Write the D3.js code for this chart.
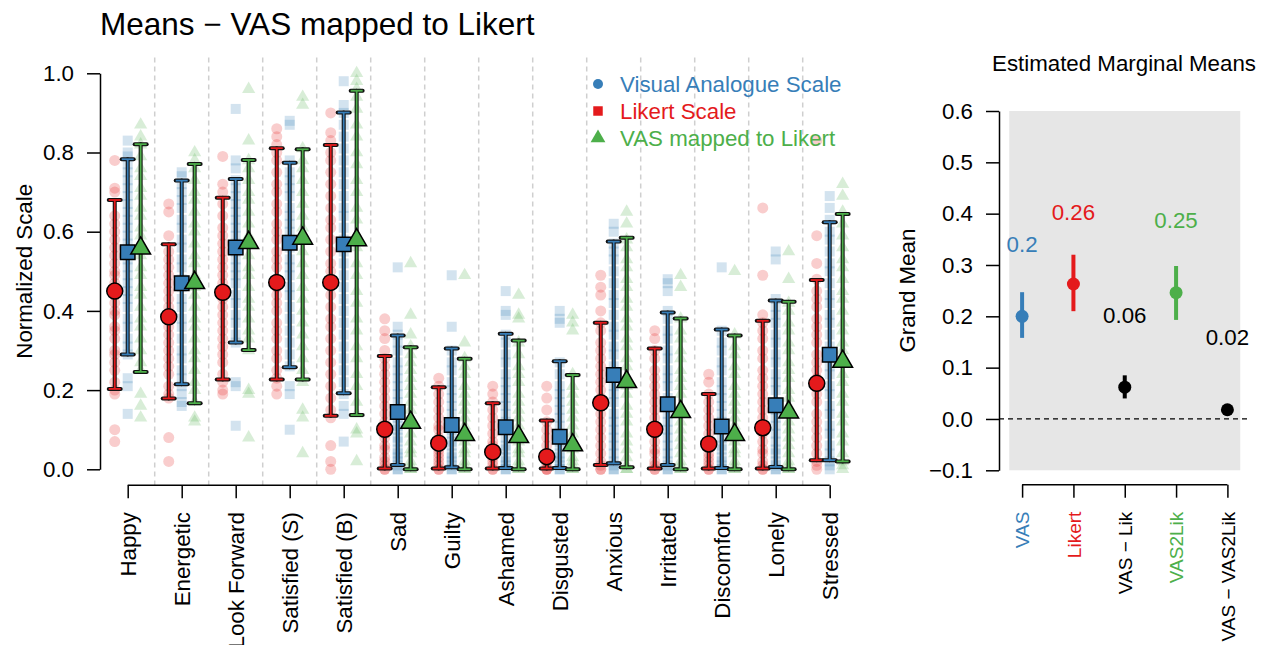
<!DOCTYPE html>
<html>
<head>
<meta charset="utf-8">
<script src="https://cdn.jsdelivr.net/npm/d3@7"></script>
<style>
  html, body { margin: 0; padding: 0; background: #fff; }
  svg { display: block; font-family: "Liberation Sans", Arial, sans-serif; }
</style>
</head>
<body>
<svg id="chart" width="1266" height="645"></svg>
<script>
// ---- Items and per-item summary statistics (normalized 0..1) ----
const categories = ["Happy", "Energetic", "Look Forward", "Satisfied (S)", "Satisfied (B)",
  "Sad", "Guilty", "Ashamed", "Disgusted", "Anxious", "Irritated", "Discomfort", "Lonely", "Stressed"];

const likertMean = [0.450, 0.385, 0.447, 0.472, 0.472, 0.101, 0.066, 0.044, 0.032, 0.168, 0.101, 0.064, 0.105, 0.217];
const likertLo   = [0.203, 0.179, 0.227, 0.227, 0.135, 0.002, 0.002, 0.002, 0.002, 0.011, 0.002, 0.002, 0.002, 0.023];
const likertHi   = [0.680, 0.568, 0.686, 0.811, 0.819, 0.286, 0.207, 0.167, 0.123, 0.370, 0.305, 0.190, 0.375, 0.478];

const vasMean = [0.548, 0.470, 0.560, 0.572, 0.568, 0.145, 0.112, 0.106, 0.082, 0.238, 0.164, 0.108, 0.162, 0.289];
const vasLo   = [0.290, 0.215, 0.320, 0.258, 0.192, 0.011, 0.005, 0.003, 0.003, 0.015, 0.011, 0.003, 0.006, 0.023];
const vasHi   = [0.783, 0.729, 0.733, 0.774, 0.901, 0.338, 0.305, 0.342, 0.273, 0.575, 0.396, 0.353, 0.426, 0.624];

const mapMean = [0.558, 0.471, 0.572, 0.583, 0.579, 0.118, 0.087, 0.082, 0.061, 0.221, 0.145, 0.087, 0.144, 0.272];
const mapLo   = [0.246, 0.167, 0.301, 0.227, 0.137, 0.000, 0.000, 0.000, 0.000, 0.005, 0.000, 0.000, 0.000, 0.020];
const mapHi   = [0.821, 0.771, 0.781, 0.808, 0.956, 0.308, 0.279, 0.325, 0.238, 0.585, 0.381, 0.338, 0.423, 0.645];

// ---- Individual responses per item ----
const likertPts = [
  [0.07,0.10,0.19,0.20,0.22,0.25,0.27,0.29,0.30,0.33,0.35,0.36,0.39,0.40,0.42,0.44,0.45,0.47,0.49,0.50,0.52,0.54,0.56,0.58,0.60,0.62,0.64,0.70,0.71,0.78],
  [0.02,0.08,0.18,0.19,0.21,0.24,0.26,0.28,0.30,0.32,0.34,0.36,0.38,0.39,0.41,0.43,0.45,0.47,0.49,0.51,0.53,0.55,0.59,0.65,0.67],
  [0.19,0.20,0.22,0.24,0.27,0.29,0.31,0.33,0.35,0.37,0.39,0.41,0.43,0.45,0.47,0.49,0.51,0.53,0.55,0.57,0.59,0.61,0.64,0.67,0.70,0.72,0.79],
  [0.19,0.21,0.23,0.25,0.28,0.30,0.33,0.35,0.37,0.40,0.42,0.44,0.46,0.48,0.51,0.53,0.55,0.58,0.60,0.62,0.65,0.67,0.70,0.72,0.75,0.78,0.80,0.82,0.84,0.86],
  [0.00,0.02,0.06,0.13,0.15,0.18,0.21,0.24,0.27,0.30,0.33,0.36,0.38,0.41,0.44,0.47,0.50,0.52,0.55,0.58,0.61,0.63,0.66,0.69,0.72,0.75,0.78,0.80,0.83,0.85,0.90],
  [0.00,0.00,0.01,0.02,0.03,0.05,0.06,0.08,0.09,0.11,0.12,0.14,0.16,0.18,0.20,0.22,0.24,0.26,0.28,0.30,0.33,0.35,0.38],
  [0.00,0.00,0.01,0.02,0.03,0.04,0.05,0.07,0.08,0.10,0.11,0.13,0.15,0.17,0.19,0.21,0.23],
  [0.00,0.00,0.01,0.02,0.03,0.04,0.06,0.07,0.09,0.11,0.13,0.15,0.17,0.19,0.21],
  [0.00,0.00,0.00,0.01,0.02,0.03,0.04,0.06,0.08,0.10,0.12,0.15,0.18,0.21],
  [0.00,0.00,0.01,0.02,0.04,0.06,0.08,0.10,0.12,0.14,0.16,0.18,0.20,0.22,0.24,0.26,0.28,0.30,0.32,0.35,0.37,0.40,0.44,0.46,0.49],
  [0.00,0.00,0.01,0.02,0.04,0.05,0.07,0.09,0.11,0.13,0.15,0.17,0.19,0.21,0.23,0.25,0.28,0.30,0.33,0.35],
  [0.00,0.00,0.01,0.02,0.03,0.04,0.06,0.07,0.09,0.11,0.13,0.15,0.17,0.19,0.22,0.24],
  [0.00,0.00,0.01,0.02,0.04,0.05,0.07,0.09,0.11,0.13,0.15,0.17,0.19,0.21,0.23,0.25,0.28,0.30,0.33,0.35,0.37,0.39,0.49,0.66],
  [0.00,0.01,0.02,0.04,0.06,0.08,0.10,0.12,0.14,0.17,0.19,0.21,0.23,0.25,0.27,0.29,0.32,0.34,0.36,0.38,0.41,0.43,0.45,0.48,0.52,0.59,0.83]
];

const vasPts = [
  [0.14,0.21,0.23,0.29,0.31,0.33,0.36,0.38,0.41,0.43,0.45,0.47,0.49,0.51,0.53,0.55,0.57,0.59,0.61,0.63,0.65,0.67,0.69,0.71,0.73,0.75,0.77,0.79,0.80,0.83],
  [0.16,0.17,0.19,0.21,0.23,0.25,0.28,0.30,0.33,0.36,0.38,0.41,0.43,0.46,0.48,0.51,0.53,0.56,0.58,0.61,0.63,0.66,0.68,0.70,0.72,0.74,0.75],
  [0.11,0.21,0.22,0.32,0.34,0.37,0.39,0.42,0.44,0.47,0.49,0.51,0.53,0.55,0.57,0.59,0.61,0.63,0.65,0.67,0.69,0.71,0.73,0.76,0.78,0.91],
  [0.10,0.19,0.21,0.26,0.29,0.32,0.35,0.38,0.41,0.44,0.46,0.49,0.51,0.53,0.56,0.58,0.60,0.62,0.64,0.66,0.69,0.71,0.73,0.75,0.78,0.87,0.88],
  [0.07,0.14,0.16,0.19,0.22,0.25,0.28,0.31,0.34,0.37,0.40,0.43,0.46,0.49,0.52,0.55,0.58,0.61,0.64,0.66,0.69,0.72,0.75,0.78,0.81,0.84,0.87,0.90,0.92,0.98],
  [0.00,0.00,0.01,0.02,0.03,0.04,0.05,0.07,0.08,0.10,0.11,0.13,0.15,0.17,0.19,0.21,0.23,0.25,0.27,0.30,0.32,0.34,0.36,0.51],
  [0.00,0.00,0.01,0.02,0.03,0.04,0.06,0.07,0.09,0.10,0.12,0.14,0.16,0.18,0.20,0.22,0.25,0.27,0.30,0.36,0.49],
  [0.00,0.00,0.01,0.02,0.03,0.05,0.06,0.08,0.10,0.12,0.14,0.16,0.18,0.20,0.22,0.24,0.27,0.29,0.32,0.34,0.39,0.40,0.45],
  [0.00,0.00,0.01,0.02,0.03,0.04,0.06,0.07,0.09,0.11,0.13,0.15,0.17,0.19,0.21,0.24,0.27,0.37,0.38,0.40],
  [0.00,0.00,0.01,0.02,0.04,0.06,0.08,0.10,0.12,0.14,0.17,0.19,0.21,0.24,0.26,0.29,0.31,0.34,0.36,0.39,0.42,0.44,0.47,0.50,0.53,0.55,0.57,0.60,0.62],
  [0.00,0.00,0.01,0.02,0.04,0.06,0.08,0.10,0.12,0.14,0.16,0.18,0.21,0.23,0.25,0.28,0.30,0.33,0.35,0.38,0.40,0.45,0.47,0.48],
  [0.00,0.00,0.01,0.02,0.03,0.05,0.06,0.08,0.10,0.12,0.14,0.16,0.18,0.20,0.22,0.25,0.27,0.30,0.32,0.35,0.51],
  [0.00,0.00,0.01,0.02,0.04,0.05,0.07,0.09,0.11,0.13,0.15,0.17,0.20,0.22,0.24,0.27,0.29,0.32,0.34,0.37,0.39,0.41,0.43,0.53,0.55],
  [0.00,0.01,0.02,0.04,0.06,0.09,0.11,0.14,0.16,0.19,0.21,0.24,0.26,0.29,0.31,0.34,0.37,0.39,0.42,0.44,0.47,0.50,0.52,0.55,0.58,0.60,0.63,0.66,0.69]
];

const mapPts = [
  [0.13,0.16,0.19,0.25,0.27,0.30,0.33,0.36,0.38,0.41,0.44,0.46,0.49,0.51,0.54,0.56,0.59,0.61,0.64,0.66,0.69,0.71,0.74,0.76,0.79,0.82,0.84,0.87],
  [0.12,0.13,0.17,0.20,0.22,0.25,0.28,0.30,0.33,0.36,0.38,0.41,0.44,0.46,0.49,0.52,0.54,0.57,0.60,0.62,0.65,0.68,0.70,0.73,0.76,0.78,0.80],
  [0.08,0.19,0.20,0.30,0.33,0.35,0.38,0.41,0.43,0.46,0.49,0.51,0.54,0.57,0.59,0.62,0.65,0.68,0.70,0.73,0.76,0.78,0.83,0.96],
  [0.04,0.13,0.15,0.22,0.25,0.28,0.31,0.34,0.37,0.40,0.43,0.46,0.49,0.52,0.55,0.58,0.61,0.64,0.67,0.70,0.73,0.76,0.78,0.81,0.92,0.94],
  [0.02,0.09,0.10,0.14,0.17,0.21,0.24,0.28,0.31,0.35,0.38,0.42,0.45,0.49,0.52,0.56,0.59,0.63,0.66,0.70,0.73,0.77,0.80,0.84,0.87,0.91,0.94,0.96,0.98,1.00],
  [0.00,0.00,0.01,0.02,0.04,0.05,0.07,0.09,0.11,0.13,0.15,0.17,0.19,0.21,0.23,0.25,0.27,0.29,0.31,0.34,0.39,0.52],
  [0.00,0.00,0.01,0.02,0.04,0.05,0.07,0.09,0.11,0.13,0.15,0.17,0.19,0.21,0.24,0.26,0.28,0.32,0.49],
  [0.00,0.00,0.01,0.02,0.04,0.05,0.07,0.09,0.11,0.13,0.15,0.17,0.19,0.22,0.24,0.26,0.29,0.32,0.38,0.39,0.44],
  [0.00,0.00,0.01,0.02,0.03,0.05,0.07,0.09,0.11,0.13,0.15,0.17,0.19,0.21,0.24,0.35,0.37,0.39],
  [0.00,0.00,0.01,0.03,0.05,0.07,0.09,0.12,0.14,0.16,0.19,0.21,0.23,0.26,0.28,0.31,0.33,0.36,0.38,0.41,0.43,0.46,0.48,0.51,0.53,0.56,0.58,0.62,0.65],
  [0.00,0.00,0.01,0.02,0.04,0.06,0.08,0.10,0.12,0.14,0.16,0.19,0.21,0.23,0.25,0.28,0.30,0.33,0.35,0.38,0.46,0.49],
  [0.00,0.00,0.01,0.02,0.04,0.05,0.07,0.09,0.11,0.13,0.15,0.17,0.19,0.21,0.24,0.26,0.29,0.31,0.34,0.50],
  [0.00,0.00,0.01,0.02,0.04,0.06,0.08,0.10,0.12,0.14,0.16,0.18,0.20,0.23,0.25,0.27,0.30,0.32,0.35,0.37,0.40,0.42,0.48,0.55],
  [0.00,0.01,0.02,0.04,0.07,0.09,0.12,0.14,0.17,0.19,0.22,0.24,0.27,0.30,0.32,0.35,0.37,0.40,0.43,0.45,0.48,0.51,0.53,0.56,0.59,0.62,0.65,0.69,0.72]
];

const yTicks = [0, 0.2, 0.4, 0.6, 0.8, 1.0];

// ---- Estimated marginal means ----
const emmLabels = ["VAS", "Likert", "VAS \u2212 Lik", "VAS2Lik", "VAS \u2212 VAS2Lik"];
const emmMean = [0.200, 0.263, 0.062, 0.246, 0.018];
const emmLo   = [0.158, 0.210, 0.040, 0.193, 0.012];
const emmHi   = [0.247, 0.320, 0.085, 0.298, 0.024];
const emmColors = ["#377EB8", "#E41A1C", "#000000", "#4DAF4A", "#000000"];
const emmTicks = [-0.1, 0, 0.1, 0.2, 0.3, 0.4, 0.5, 0.6];

const RED = "#E41A1C", BLUE = "#377EB8", GREEN = "#4DAF4A";
const FONT = 22.3;
const FAMILY = "Liberation Sans, Arial, sans-serif";

const svg = d3.select("#chart");

// ================= Left panel =================
const x = d3.scaleLinear().domain([0.5, 14.5]).range([100.7, 856.7]);
const y = d3.scaleLinear().domain([0, 1]).range([469.3, 73.3]);
const plotTop = y(1.04), plotBottom = y(-0.04);

const series = [
  { pts: likertPts, mean: likertMean, lo: likertLo, hi: likertHi, off: -0.24, color: RED, raw: "circle" },
  { pts: vasPts, mean: vasMean, lo: vasLo, hi: vasHi, off: 0, color: BLUE, raw: "square" },
  { pts: mapPts, mean: mapMean, lo: mapLo, hi: mapHi, off: 0.24, color: GREEN, raw: "triangle" }
];

// title
svg.append("text").attr("x", 100).attr("y", 35)
  .attr("font-size", 31.5).attr("fill", "#000")
  .text("Means \u2212 VAS mapped to Likert");

// group separators
svg.append("g").selectAll("line")
  .data(d3.range(1.5, 14, 1))
  .join("line")
  .attr("x1", d => x(d)).attr("x2", d => x(d))
  .attr("y1", plotTop).attr("y2", plotBottom)
  .attr("stroke", "#cfcfcf").attr("stroke-width", 1.5).attr("stroke-dasharray", "5,4");

// raw responses
const symSquare = d3.symbol().type(d3.symbolSquare).size(100);
const symTri = d3.symbol().type(d3.symbolTriangle).size(75);
series.forEach(s => {
  const flat = [];
  s.pts.forEach((arr, i) => arr.forEach(v => flat.push({ i, v })));
  const g = svg.append("g").attr("fill", s.color).attr("fill-opacity", 0.22);
  if (s.raw === "circle") {
    g.selectAll("circle").data(flat).join("circle")
      .attr("cx", d => x(d.i + 1 + s.off)).attr("cy", d => y(d.v)).attr("r", 5.5);
  } else {
    g.selectAll("path").data(flat).join("path")
      .attr("d", s.raw === "square" ? symSquare : symTri)
      .attr("transform", d => `translate(${x(d.i + 1 + s.off)},${y(d.v)})`);
  }
});

// error bars (dark outline under a coloured core)
series.forEach(s => {
  const g = svg.append("g");
  categories.forEach((c, i) => {
    const cx = x(i + 1 + s.off);
    const segs = [
      [cx, y(s.lo[i]), cx, y(s.hi[i])],
      [cx - 6, y(s.lo[i]), cx + 6, y(s.lo[i])],
      [cx - 6, y(s.hi[i]), cx + 6, y(s.hi[i])]
    ];
    segs.forEach(sg => {
      g.append("line").attr("x1", sg[0]).attr("y1", sg[1]).attr("x2", sg[2]).attr("y2", sg[3])
        .attr("stroke", "#111").attr("stroke-width", 4).attr("stroke-linecap", "round");
    });
    segs.forEach(sg => {
      g.append("line").attr("x1", sg[0]).attr("y1", sg[1]).attr("x2", sg[2]).attr("y2", sg[3])
        .attr("stroke", s.color).attr("stroke-width", 1.8);
    });
  });
});

// mean markers
const meanSquare = d3.symbol().type(d3.symbolSquare).size(210);
const meanTri = d3.symbol().type(d3.symbolTriangle).size(170);
series.forEach(s => {
  const g = svg.append("g").attr("fill", s.color).attr("stroke", "#000").attr("stroke-width", 1.5);
  if (s.raw === "circle") {
    g.selectAll("circle").data(s.mean).join("circle")
      .attr("cx", (d, i) => x(i + 1 + s.off)).attr("cy", d => y(d)).attr("r", 8);
  } else {
    g.selectAll("path").data(s.mean).join("path")
      .attr("d", s.raw === "square" ? meanSquare : meanTri)
      .attr("transform", (d, i) => `translate(${x(i + 1 + s.off)},${y(d)})`);
  }
});

// y axis
const yAxis = svg.append("g").attr("transform", "translate(100,0)")
  .call(d3.axisLeft(y).tickValues(yTicks).tickFormat(d3.format(".1f"))
    .tickSize(13).tickPadding(13).tickSizeOuter(0));
yAxis.selectAll("text").attr("font-size", FONT).attr("font-family", FAMILY).attr("fill", "#000");
yAxis.selectAll("line, path").attr("stroke", "#000").attr("stroke-width", 1.5);

svg.append("text")
  .attr("transform", `translate(24,${(y(0) + y(1)) / 2}) rotate(-90)`)
  .attr("text-anchor", "middle").attr("dominant-baseline", "central")
  .attr("font-size", FONT).text("Normalized Scale");

// x axis
const xAxis = svg.append("g").attr("transform", `translate(0,${plotBottom})`)
  .call(d3.axisBottom(x).tickValues(d3.range(1, 15)).tickFormat(d => categories[d - 1])
    .tickSize(13).tickSizeOuter(0));
xAxis.select(".domain").remove();
xAxis.append("line").attr("x1", x(1)).attr("x2", x(14)).attr("stroke", "#000").attr("stroke-width", 1.5);
xAxis.selectAll("line").attr("stroke", "#000").attr("stroke-width", 1.5);
xAxis.selectAll("text")
  .attr("font-size", FONT).attr("font-family", FAMILY).attr("fill", "#000")
  .attr("transform", "rotate(-90)").attr("text-anchor", "end")
  .attr("x", -27).attr("y", 0).attr("dy", "0.35em");

// legend
const legendItems = [
  { label: "Visual Analogue Scale", color: BLUE, shape: "circle" },
  { label: "Likert Scale", color: RED, shape: "square" },
  { label: "VAS mapped to Likert", color: GREEN, shape: "triangle" }
];
const legY = d3.scalePoint().domain(legendItems.map(d => d.label)).range([84, 138]);
const leg = svg.append("g");
legendItems.forEach(it => {
  const ly = legY(it.label);
  if (it.shape === "circle") {
    leg.append("circle").attr("cx", 598).attr("cy", ly).attr("r", 5).attr("fill", it.color);
  } else {
    leg.append("path")
      .attr("d", d3.symbol().type(it.shape === "square" ? d3.symbolSquare : d3.symbolTriangle).size(it.shape === "square" ? 90 : 95))
      .attr("transform", `translate(598,${ly})`).attr("fill", it.color);
  }
  leg.append("text").attr("x", 620).attr("y", ly).attr("dominant-baseline", "central")
    .attr("font-size", FONT).attr("fill", it.color).text(it.label);
});

// ================= Right panel: estimated marginal means =================
const ex = d3.scaleLinear().domain([0.55, 5.45]).range([999, 1250.5]);
const ey = d3.scaleLinear().domain([-0.1, 0.6]).range([470.3, 111]);
const eBottom = ey(-0.1 - 0.028);

svg.append("text").attr("x", 1124).attr("y", 71).attr("text-anchor", "middle")
  .attr("font-size", FONT).text("Estimated Marginal Means");

svg.append("rect")
  .attr("x", ex(0.75)).attr("y", ey(0.6))
  .attr("width", ex(5.25) - ex(0.75)).attr("height", ey(-0.1) - ey(0.6))
  .attr("fill", "#e6e6e6");

svg.append("line").attr("x1", ex(0.55)).attr("x2", ex(5.45)).attr("y1", ey(0)).attr("y2", ey(0))
  .attr("stroke", "#000").attr("stroke-width", 1.3).attr("stroke-dasharray", "5,4");

const eg = svg.append("g");
emmMean.forEach((m, i) => {
  eg.append("line").attr("x1", ex(i + 1)).attr("x2", ex(i + 1))
    .attr("y1", ey(emmLo[i])).attr("y2", ey(emmHi[i]))
    .attr("stroke", emmColors[i]).attr("stroke-width", 4);
  eg.append("circle").attr("cx", ex(i + 1)).attr("cy", ey(m)).attr("r", 6.5).attr("fill", emmColors[i]);
  eg.append("text").attr("x", ex(i + 1)).attr("y", ey(m + 0.14))
    .attr("text-anchor", "middle").attr("dominant-baseline", "central")
    .attr("font-size", FONT).attr("fill", emmColors[i])
    .text(String(+m.toFixed(2)));
});

const eyAxis = svg.append("g").attr("transform", "translate(999,0)")
  .call(d3.axisLeft(ey).tickValues(emmTicks).tickFormat(d => d3.format(".1f")(d).replace("-", "\u2212"))
    .tickSize(13).tickPadding(13).tickSizeOuter(0));
eyAxis.selectAll("text").attr("font-size", FONT).attr("font-family", FAMILY).attr("fill", "#000");
eyAxis.selectAll("line, path").attr("stroke", "#000").attr("stroke-width", 1.5);

svg.append("text")
  .attr("transform", `translate(907,${(ey(-0.1) + ey(0.6)) / 2}) rotate(-90)`)
  .attr("text-anchor", "middle").attr("dominant-baseline", "central")
  .attr("font-size", FONT).text("Grand Mean");

const exAxis = svg.append("g").attr("transform", `translate(0,${eBottom})`)
  .call(d3.axisBottom(ex).tickValues([1, 2, 3, 4, 5]).tickFormat(d => emmLabels[d - 1])
    .tickSize(13).tickSizeOuter(0));
exAxis.select(".domain").remove();
exAxis.append("line").attr("x1", ex(1)).attr("x2", ex(5)).attr("stroke", "#000").attr("stroke-width", 1.5);
exAxis.selectAll("line").attr("stroke", "#000").attr("stroke-width", 1.5);
exAxis.selectAll("text")
  .attr("font-size", 19).attr("font-family", FAMILY)
  .attr("fill", d => emmColors[d - 1])
  .attr("transform", "rotate(-90)").attr("text-anchor", "end")
  .attr("x", -27).attr("y", 0).attr("dy", "0.35em");
</script>
</body>
</html>
